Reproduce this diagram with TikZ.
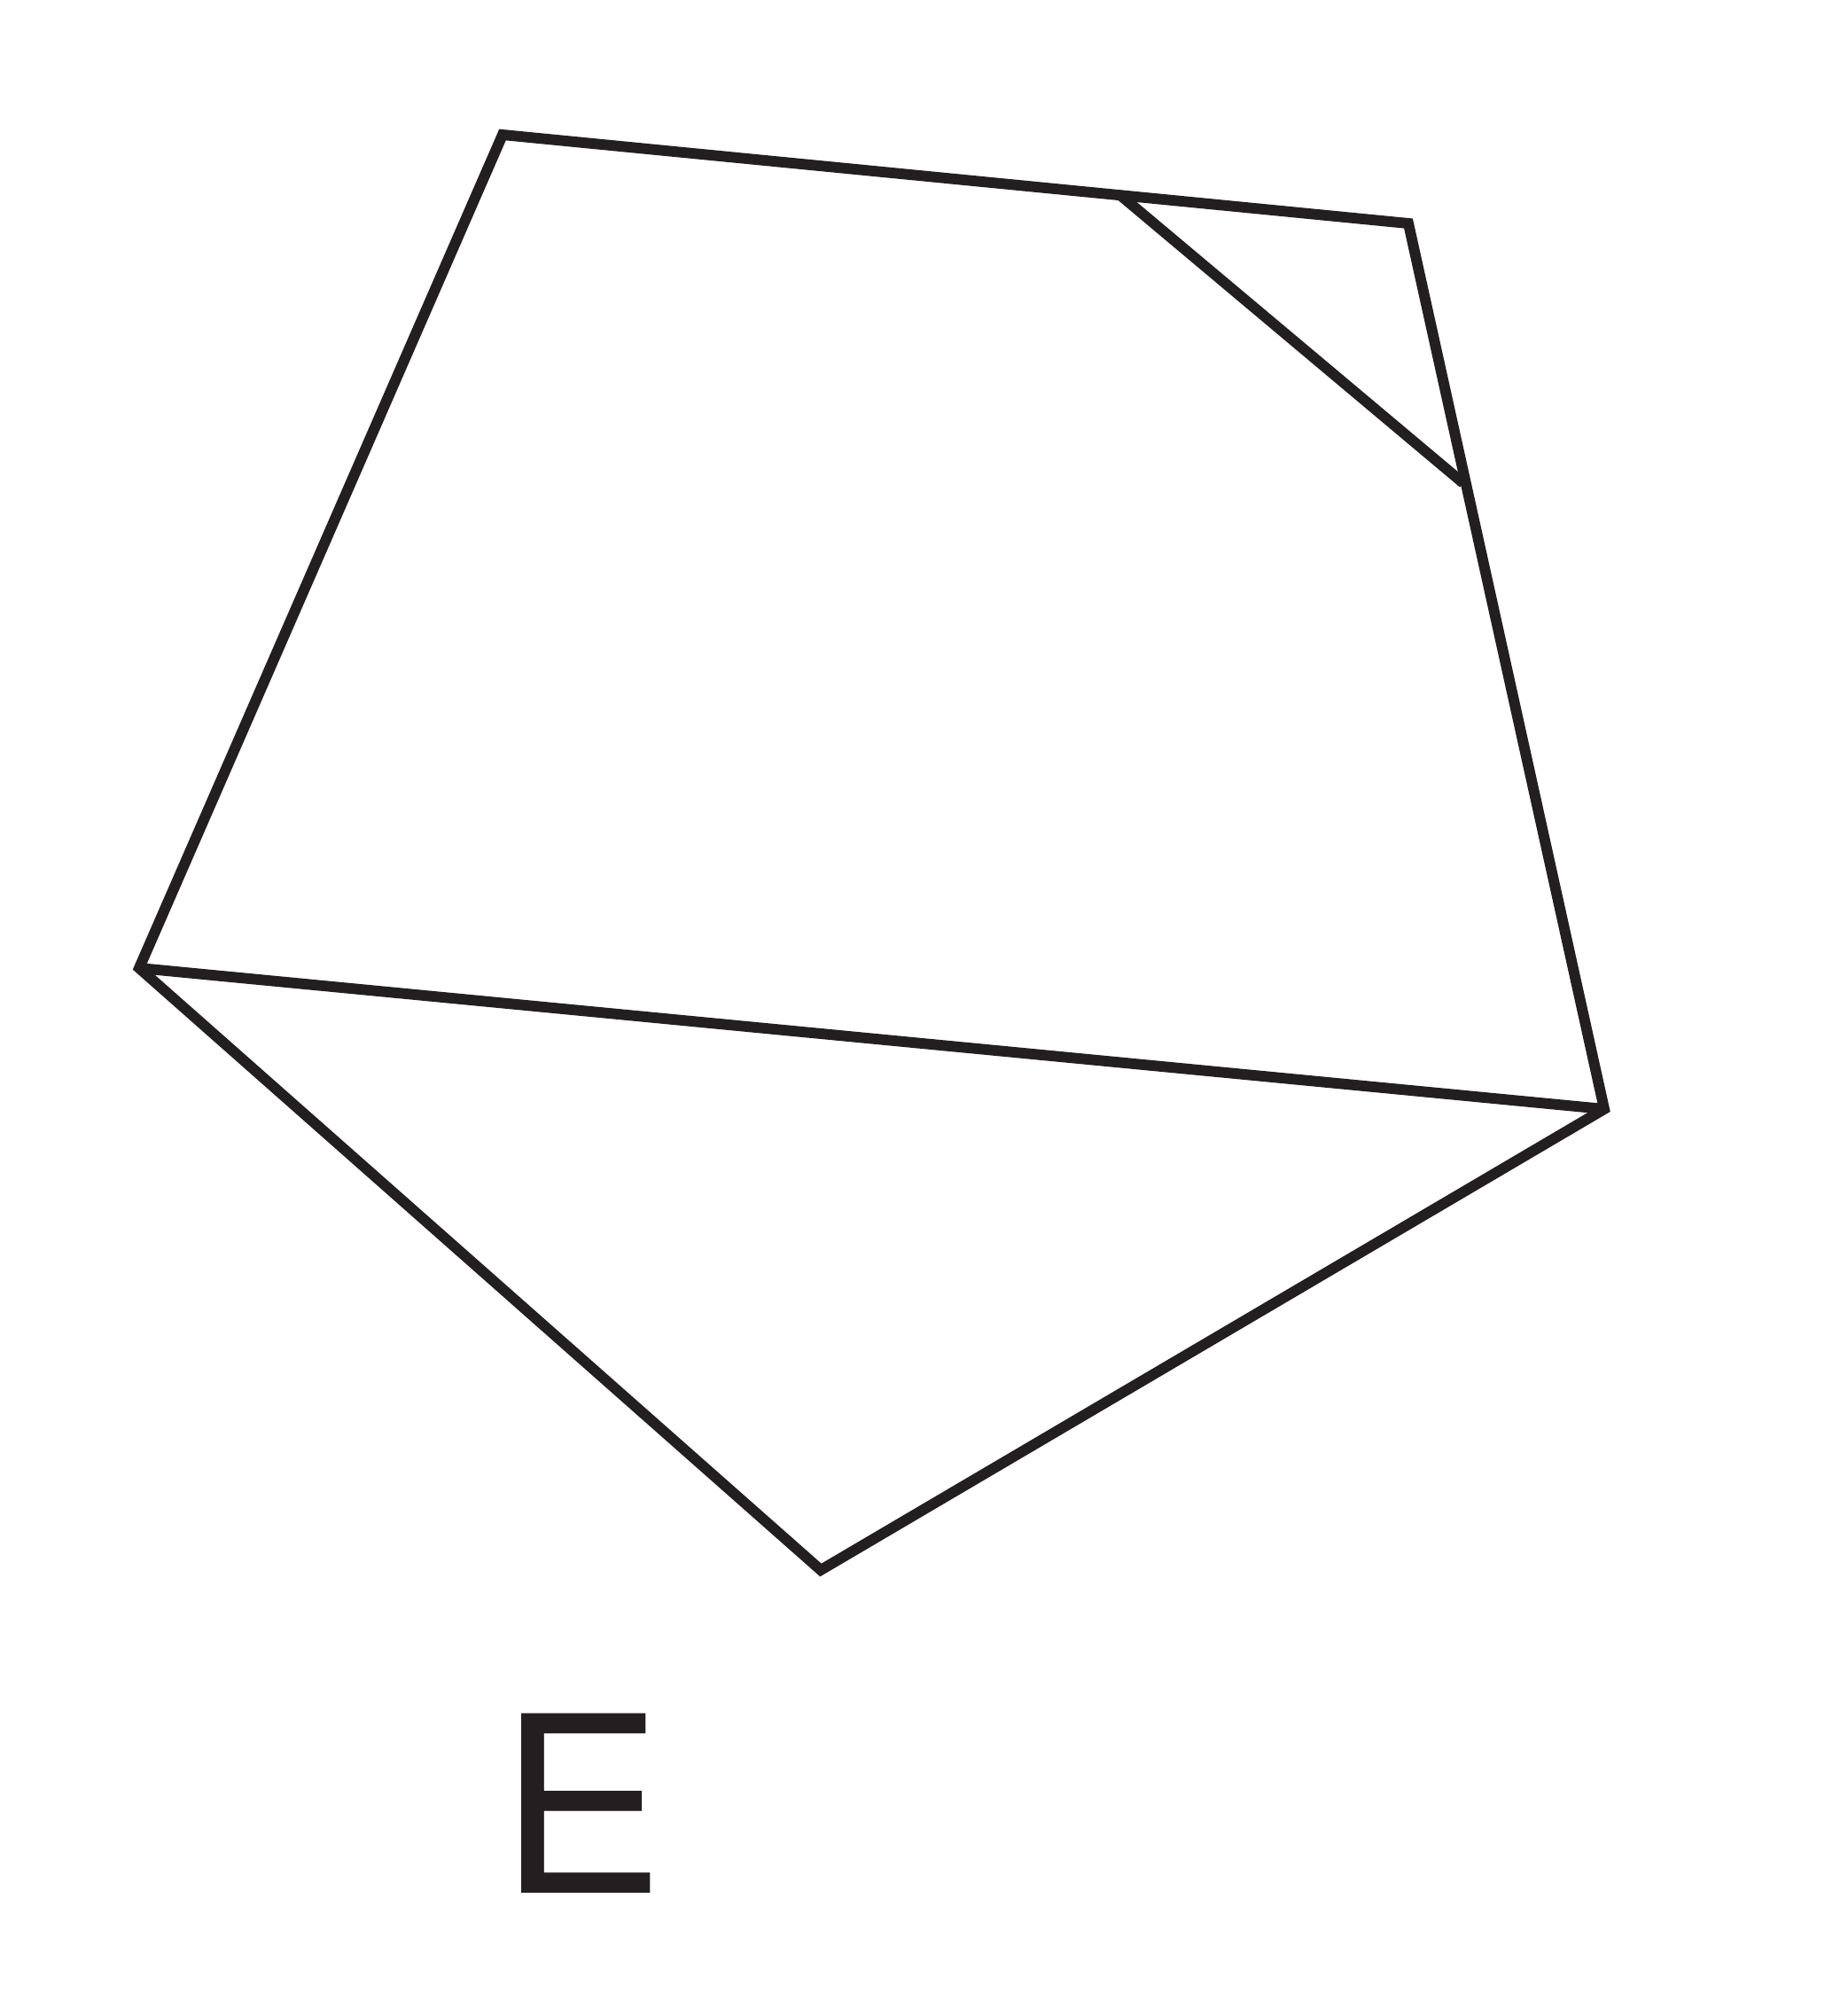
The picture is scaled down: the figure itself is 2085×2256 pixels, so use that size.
\documentclass[tikz,border=0pt]{standalone}
\usepackage{fontspec}
\setmainfont{TeX Gyre Heros}
\usepackage{tikz}

\begin{document}
\begin{tikzpicture}[x=0.01cm, y=-0.01cm, line width=3.4pt, color={rgb,255:red,35;green,31;blue,32}]
			\tikzstyle{every node} = [inner sep=0pt, font=\fontsize{79}{79}\selectfont]
			\useasboundingbox (0, 0) rectangle (2085, 2256);
			\coordinate (a) at (567, 152);
			\coordinate (b) at (1589, 252);
			\coordinate (c) at (1810, 1251);
			\coordinate (d) at (926, 1771);
			\coordinate (f) at (157, 1092);
			\coordinate (p) at (1265, 221);
			\coordinate (q) at (1651, 545);
			\draw (a) -- (b) -- (c) -- (d) -- (f) -- cycle;
			\foreach \from/\to in {f/c, p/q}
			\draw (\from) -- (\to);
			\node[anchor=base] (label) at (656, 2135) {E};
			\end{tikzpicture}
\end{document}
